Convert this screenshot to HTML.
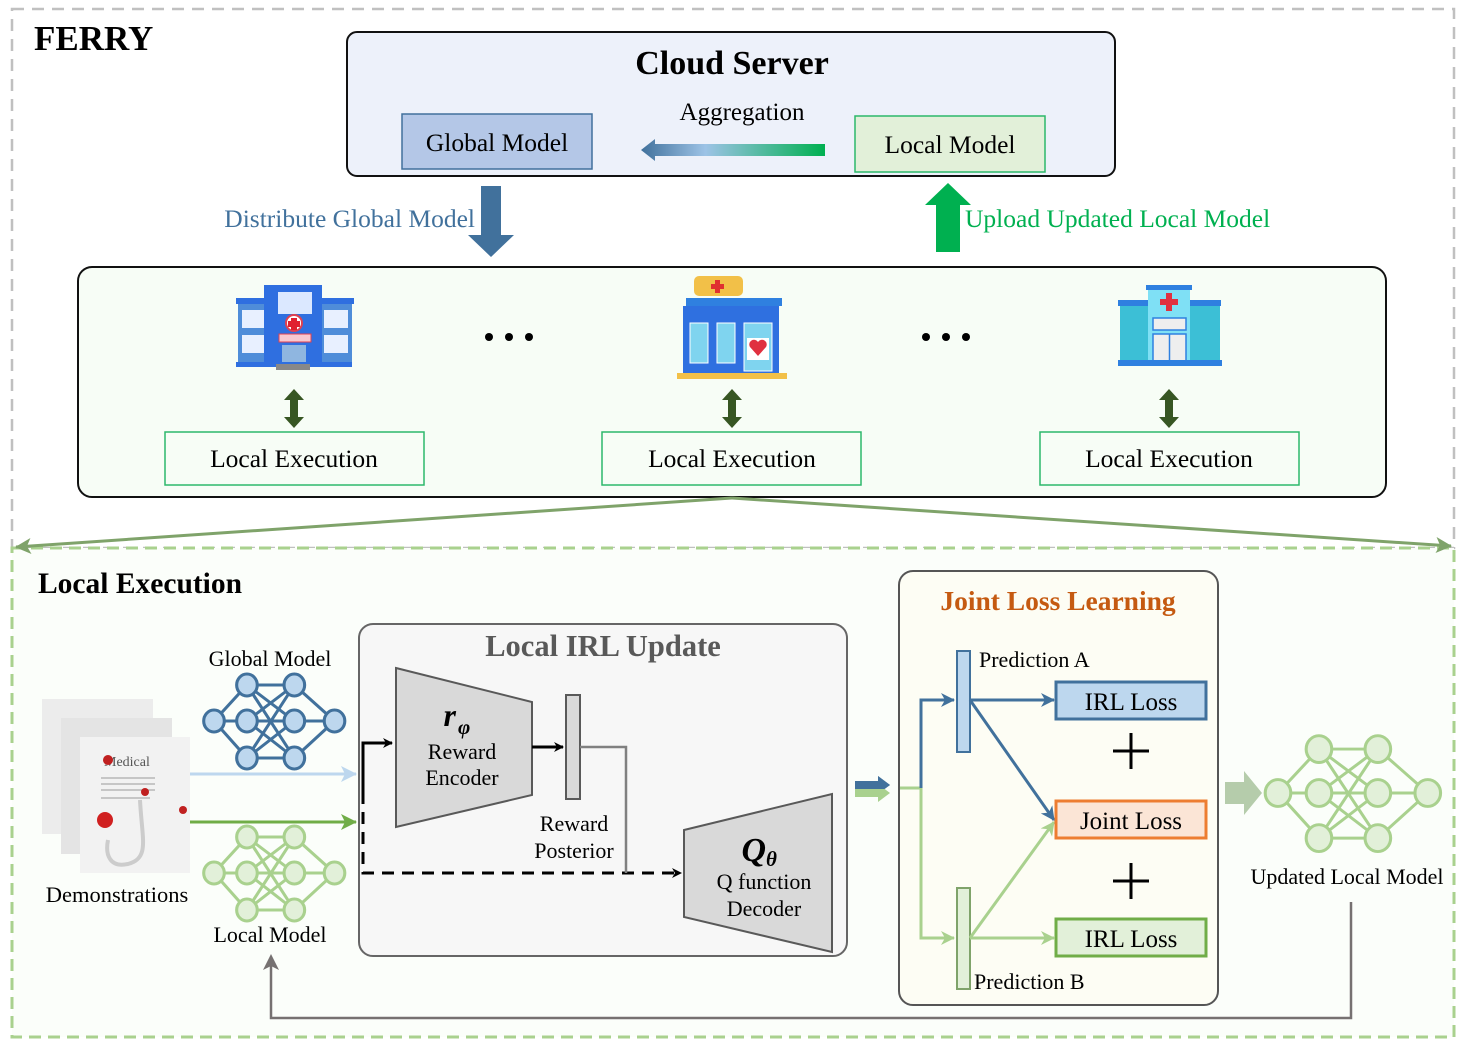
<!DOCTYPE html>
<html><head><meta charset="utf-8"><style>
html,body{margin:0;padding:0;background:#fff}
svg{display:block}
text{font-family:"Liberation Serif",serif}
</style></head><body>
<svg width="1468" height="1047" viewBox="0 0 1468 1047" xmlns="http://www.w3.org/2000/svg">
<defs>
<g id="net">
 <g fill="none">
  <line x1="0" y1="0" x2="32" y2="-36"/><line x1="0" y1="0" x2="32" y2="0"/><line x1="0" y1="0" x2="32" y2="37"/>
  <line x1="32" y1="-36" x2="78" y2="-36"/><line x1="32" y1="-36" x2="78" y2="0"/><line x1="32" y1="-36" x2="78" y2="37"/>
  <line x1="32" y1="0" x2="78" y2="-36"/><line x1="32" y1="0" x2="78" y2="0"/><line x1="32" y1="0" x2="78" y2="37"/>
  <line x1="32" y1="37" x2="78" y2="-36"/><line x1="32" y1="37" x2="78" y2="0"/><line x1="32" y1="37" x2="78" y2="37"/>
  <line x1="78" y1="-36" x2="117" y2="0"/><line x1="78" y1="0" x2="117" y2="0"/><line x1="78" y1="37" x2="117" y2="0"/>
 </g>
 <ellipse cx="0" cy="0" rx="10" ry="11"/>
 <ellipse cx="32" cy="-36" rx="10" ry="11"/><ellipse cx="32" cy="0" rx="10" ry="11"/><ellipse cx="32" cy="37" rx="10" ry="11"/>
 <ellipse cx="78" cy="-36" rx="10" ry="11"/><ellipse cx="78" cy="0" rx="10" ry="11"/><ellipse cx="78" cy="37" rx="10" ry="11"/>
 <ellipse cx="117" cy="0" rx="10" ry="11"/>
</g>
<linearGradient id="agg" x1="0" x2="1" y1="0" y2="0">
 <stop offset="0" stop-color="#41719c"/><stop offset="0.35" stop-color="#9dc3e6"/><stop offset="1" stop-color="#00b050"/>
</linearGradient>
<marker id="ab" markerWidth="10" markerHeight="10" refX="9" refY="5" orient="auto" markerUnits="userSpaceOnUse"><path d="M0,0 L10,5 L0,10 L3,5Z" fill="#000"/></marker>
<marker id="ablue" markerWidth="14" markerHeight="14" refX="13" refY="7" orient="auto" markerUnits="userSpaceOnUse"><path d="M0,0 L14,7 L0,14 L4,7Z" fill="#41719c"/></marker>
<marker id="agreen" markerWidth="14" markerHeight="14" refX="13" refY="7" orient="auto" markerUnits="userSpaceOnUse"><path d="M0,0 L14,7 L0,14 L4,7Z" fill="#a9d18e"/></marker>
<marker id="alb" markerWidth="16" markerHeight="16" refX="15" refY="8" orient="auto" markerUnits="userSpaceOnUse"><path d="M0,0 L16,8 L0,16 L4,8Z" fill="#bdd7ee"/></marker>
<marker id="adg" markerWidth="16" markerHeight="16" refX="15" refY="8" orient="auto" markerUnits="userSpaceOnUse"><path d="M0,0 L16,8 L0,16 L4,8Z" fill="#70ad47"/></marker>
<marker id="aol" markerWidth="16" markerHeight="16" refX="15" refY="8" orient="auto" markerUnits="userSpaceOnUse"><path d="M0,0 L16,8 L0,16 L4,8Z" fill="#7fa36a"/></marker>
<marker id="agr" markerWidth="16" markerHeight="16" refX="8" refY="8" orient="auto" markerUnits="userSpaceOnUse"><path d="M0,0 L16,8 L0,16 L4,8Z" fill="#767171"/></marker>
</defs>

<rect x="12" y="9" width="1442" height="539" fill="none" stroke="#c0c0c0" stroke-width="2.5" stroke-dasharray="12,8"/>
<rect x="12" y="548" width="1442" height="489" fill="#fbfefa" stroke="#a9d18e" stroke-width="3" stroke-dasharray="12,7"/>

<text x="34" y="50" font-size="35" font-weight="bold">FERRY</text>

<rect x="347" y="32" width="768" height="144" rx="10" fill="#edf1fa" stroke="#111" stroke-width="2"/>
<text x="732" y="74" font-size="34" font-weight="bold" text-anchor="middle">Cloud Server</text>
<text x="742" y="120" font-size="25" text-anchor="middle">Aggregation</text>
<rect x="402" y="114" width="190" height="55" fill="#b4c7e7" stroke="#41719c" stroke-width="1.5"/>
<text x="497" y="151" font-size="25.5" text-anchor="middle">Global Model</text>
<rect x="855" y="116" width="190" height="56" fill="#e2f0d9" stroke="#2db86b" stroke-width="1.5"/>
<text x="950" y="153" font-size="25.5" text-anchor="middle">Local Model</text>
<path d="M641,150 L655,139 L655,144 L825,144 L825,156 L655,156 L655,161 Z" fill="url(#agg)"/>

<path d="M481,186 L501,186 L501,235 L514,235 L491,257 L468,235 L481,235 Z" fill="#41719c"/>
<text x="475" y="227" font-size="25.5" fill="#41719c" text-anchor="end">Distribute Global Model</text>
<path d="M936,252 L960,252 L960,205 L971,205 L948,183 L925,205 L936,205 Z" fill="#00b050"/>
<text x="965" y="227" font-size="25.5" fill="#00b050">Upload Updated Local Model</text>

<rect x="78" y="267" width="1308" height="230" rx="14" fill="#f7fdf6" stroke="#111" stroke-width="2"/>

<g>
 <rect x="236" y="298" width="118" height="6" fill="#2f6fe0"/>
 <rect x="238" y="304" width="30" height="60" fill="#4f8dd9"/>
 <rect x="320" y="304" width="32" height="60" fill="#4f8dd9"/>
 <rect x="264" y="285" width="58" height="80" fill="#2f6fe0"/>
 <rect x="278" y="292" width="34" height="22" fill="#dbe8ff"/>
 <rect x="242" y="310" width="22" height="18" fill="#e8f0ff"/><rect x="242" y="335" width="22" height="18" fill="#e8f0ff"/>
 <rect x="324" y="310" width="24" height="18" fill="#e8f0ff"/><rect x="324" y="335" width="24" height="18" fill="#e8f0ff"/>
 <circle cx="294" cy="323" r="8" fill="#fff" stroke="#e04050" stroke-width="2"/>
 <path d="M291,318h6v3h3v6h-3v3h-6v-3h-3v-6h3z" fill="#e02030"/>
 <rect x="279" y="334" width="32" height="8" fill="#f8c8d0" stroke="#e04050"/>
 <rect x="282" y="345" width="24" height="18" fill="#8fb6e0"/>
 <rect x="236" y="362" width="116" height="5" fill="#2f6fe0"/>
 <rect x="276" y="364" width="34" height="6" fill="#888"/>
</g>
<g>
 <rect x="694" y="276" width="49" height="20" rx="5" fill="#f2c048"/>
 <path d="M715,280h5v4h4v5h-4v4h-5v-4h-4v-5h4z" fill="#e03030"/>
 <rect x="686" y="298" width="96" height="8" fill="#2f80e0"/>
 <rect x="683" y="306" width="96" height="68" fill="#2f70e0"/>
 <rect x="690" y="323" width="18" height="40" fill="#7fd4ef" stroke="#fff"/>
 <rect x="717" y="323" width="18" height="40" fill="#7fd4ef" stroke="#fff"/>
 <rect x="744" y="323" width="28" height="48" fill="#7fd4ef" stroke="#fff"/>
 <rect x="747" y="338" width="22" height="22" fill="#fff"/>
 <path d="M758,356 L750,347 A4,4 0 0 1 758,342 A4,4 0 0 1 766,347 Z" fill="#e03040"/>
 <rect x="677" y="373" width="110" height="6" fill="#f2c048"/>
</g>
<g>
 <rect x="1118" y="300" width="38" height="6" fill="#2f80e0"/>
 <rect x="1183" y="300" width="38" height="6" fill="#2f80e0"/>
 <rect x="1120" y="306" width="34" height="54" fill="#3cbfd6"/>
 <rect x="1186" y="306" width="34" height="54" fill="#3cbfd6"/>
 <rect x="1146" y="285" width="46" height="5" fill="#2f80e0"/>
 <rect x="1148" y="290" width="42" height="70" fill="#7fe0f5"/>
 <path d="M1166,293h6v6h6v6h-6v6h-6v-6h-6v-6h6z" fill="#e03040"/>
 <rect x="1153" y="318" width="33" height="12" fill="#eee" stroke="#2f80e0" stroke-width="1.5"/>
 <rect x="1153" y="334" width="33" height="27" fill="#eee" stroke="#2f80e0" stroke-width="1.5"/>
 <line x1="1169.5" y1="334" x2="1169.5" y2="361" stroke="#2f80e0" stroke-width="1.5"/>
 <rect x="1118" y="360" width="104" height="6" fill="#2f80e0"/>
</g>

<g fill="#000">
 <circle cx="489" cy="337" r="4"/><circle cx="509" cy="337" r="4"/><circle cx="529" cy="337" r="4"/>
 <circle cx="926" cy="337" r="4"/><circle cx="946" cy="337" r="4"/><circle cx="966" cy="337" r="4"/>
</g>

<g fill="#375623">
 <path d="M294,389 L304,400 L298,400 L298,417 L304,417 L294,428 L284,417 L290,417 L290,400 L284,400 Z"/>
 <path d="M732,389 L742,400 L736,400 L736,417 L742,417 L732,428 L722,417 L728,417 L728,400 L722,400 Z"/>
 <path d="M1169,389 L1179,400 L1173,400 L1173,417 L1179,417 L1169,428 L1159,417 L1165,417 L1165,400 L1159,400 Z"/>
</g>

<g fill="#f7fdf6" stroke="#2db86b" stroke-width="1.5">
 <rect x="165" y="432" width="259" height="53"/><rect x="602" y="432" width="259" height="53"/><rect x="1040" y="432" width="259" height="53"/>
</g>
<g font-size="25.5" text-anchor="middle">
 <text x="294" y="467">Local Execution</text><text x="732" y="467">Local Execution</text><text x="1169" y="467">Local Execution</text>
</g>

<line x1="732" y1="498" x2="16" y2="547" stroke="#7fa36a" stroke-width="3" marker-end="url(#aol)"/>
<line x1="732" y1="498" x2="1451" y2="546" stroke="#7fa36a" stroke-width="3" marker-end="url(#aol)"/>

<text x="38" y="593" font-size="29.5" font-weight="bold">Local Execution</text>

<g>
 <rect x="42" y="699" width="111" height="135" fill="#ececec"/>
 <rect x="61" y="718" width="111" height="136" fill="#e4e4e4"/>
 <rect x="80" y="737" width="110" height="136" fill="#f2f2f2"/>
 <text x="104" y="766" font-size="14" fill="#555">Medical</text>
 <circle cx="108" cy="760" r="5" fill="#c02020"/>
 <g stroke="#999" stroke-width="1"><line x1="101" y1="778" x2="155" y2="778"/><line x1="101" y1="784" x2="155" y2="784"/><line x1="101" y1="790" x2="155" y2="790"/><line x1="101" y1="798" x2="150" y2="798"/></g>
 <circle cx="105" cy="820" r="8" fill="#d02020"/>
 <circle cx="145" cy="792" r="4" fill="#c02020"/><circle cx="183" cy="810" r="4" fill="#c02020"/>
 <path d="M140,800 C142,840 150,858 128,864 C110,868 105,855 108,840" fill="none" stroke="#ccc" stroke-width="4"/>
</g>
<text x="117" y="902" font-size="22.5" text-anchor="middle">Demonstrations</text>

<text x="270" y="666" font-size="22" text-anchor="middle">Global Model</text>
<use href="#net" transform="translate(214,721) scale(1.03,1)" stroke="#41719c" stroke-width="3" fill="#bdd7ee"/>
<use href="#net" transform="translate(214,873) scale(1.03,1)" stroke="#a9d18e" stroke-width="3" fill="#e2f0d9"/>
<text x="270" y="942" font-size="22" text-anchor="middle">Local Model</text>

<line x1="190" y1="774" x2="356" y2="774" stroke="#bdd7ee" stroke-width="3" marker-end="url(#alb)"/>
<line x1="190" y1="822" x2="356" y2="822" stroke="#70ad47" stroke-width="3" marker-end="url(#adg)"/>

<rect x="359" y="624" width="488" height="332" rx="14" fill="#f7f7f7" stroke="#666" stroke-width="2"/>
<text x="603" y="656" font-size="30.5" font-weight="bold" fill="#595959" text-anchor="middle">Local IRL Update</text>
<polyline points="363,792 363,743 392,743" fill="none" stroke="#000" stroke-width="3" marker-end="url(#ab)"/>
<polyline points="363,792 363,873 681,873" fill="none" stroke="#000" stroke-width="3" stroke-dasharray="12,8" marker-end="url(#ab)"/>
<polygon points="396,668 532,702 532,795 396,827" fill="#d9d9d9" stroke="#595959" stroke-width="2"/>
<text x="456" y="726" font-size="32" font-weight="bold" font-style="italic" text-anchor="end">r</text>
<text x="458" y="734" font-size="21" font-weight="bold" font-style="italic">φ</text>
<text x="462" y="759" font-size="22" text-anchor="middle">Reward</text>
<text x="462" y="785" font-size="22" text-anchor="middle">Encoder</text>
<line x1="532" y1="747" x2="563" y2="747" stroke="#000" stroke-width="3" marker-end="url(#ab)"/>
<rect x="566" y="695" width="14" height="104" fill="#d9d9d9" stroke="#595959" stroke-width="2"/>
<polyline points="580,747 626,747 626,873" fill="none" stroke="#808080" stroke-width="2.5"/>
<text x="574" y="831" font-size="22" text-anchor="middle">Reward</text>
<text x="574" y="858" font-size="22" text-anchor="middle">Posterior</text>
<polygon points="684,830 832,794 832,952 684,917" fill="#d9d9d9" stroke="#595959" stroke-width="2"/>
<text x="766" y="861" font-size="34" font-weight="bold" font-style="italic" text-anchor="end">Q</text>
<text x="766" y="866" font-size="21" font-weight="bold" font-style="italic">θ</text>
<text x="764" y="889" font-size="22" text-anchor="middle">Q function</text>
<text x="764" y="916" font-size="22" text-anchor="middle">Decoder</text>

<path d="M855,781 L878,781 L878,776 L890,785 L878,794 L878,789 L855,789 Z" fill="#41719c"/>
<path d="M855,789 L878,789 L878,784 L890,793 L878,802 L878,797 L855,797 Z" fill="#a9d18e"/>
<path d="M855,781 L878,781 L878,776 L890,785 L884,789 L855,789 Z" fill="#41719c"/>

<rect x="899" y="571" width="319" height="434" rx="14" fill="#fdfdf4" stroke="#555" stroke-width="2"/>
<text x="1058" y="610" font-size="27.5" font-weight="bold" fill="#c55a11" text-anchor="middle">Joint Loss Learning</text>
<line x1="900" y1="788" x2="921" y2="788" stroke="#a9d18e" stroke-width="3"/>
<polyline points="921,788 921,700 954,700" fill="none" stroke="#41719c" stroke-width="3" marker-end="url(#ablue)"/>
<polyline points="921,788 921,938 954,938" fill="none" stroke="#a9d18e" stroke-width="3" marker-end="url(#agreen)"/>
<rect x="957" y="651" width="13" height="101" fill="#bdd7ee" stroke="#41719c" stroke-width="2"/>
<rect x="957" y="888" width="13" height="101" fill="#e2f0d9" stroke="#7fa36a" stroke-width="2"/>
<text x="979" y="667" font-size="22">Prediction A</text>
<text x="974" y="989" font-size="22">Prediction B</text>
<line x1="970" y1="700" x2="1054" y2="700" stroke="#41719c" stroke-width="3" marker-end="url(#ablue)"/>
<line x1="970" y1="700" x2="1054" y2="820" stroke="#41719c" stroke-width="3" marker-end="url(#ablue)"/>
<line x1="970" y1="938" x2="1054" y2="938" stroke="#a9d18e" stroke-width="3" marker-end="url(#agreen)"/>
<line x1="970" y1="938" x2="1054" y2="822" stroke="#a9d18e" stroke-width="3" marker-end="url(#agreen)"/>
<rect x="1056" y="682" width="150" height="37" fill="#bdd7ee" stroke="#41719c" stroke-width="3"/>
<text x="1131" y="710" font-size="25" text-anchor="middle">IRL Loss</text>
<rect x="1056" y="801" width="150" height="37" fill="#fbe5d6" stroke="#ed7d31" stroke-width="3"/>
<text x="1131" y="829" font-size="25" text-anchor="middle">Joint Loss</text>
<rect x="1056" y="919" width="150" height="37" fill="#e2f0d9" stroke="#70ad47" stroke-width="3"/>
<text x="1131" y="947" font-size="25" text-anchor="middle">IRL Loss</text>
<g stroke="#000" stroke-width="3">
 <line x1="1113" y1="751" x2="1149" y2="751"/><line x1="1131" y1="733" x2="1131" y2="769"/>
 <line x1="1113" y1="881" x2="1149" y2="881"/><line x1="1131" y1="863" x2="1131" y2="899"/>
</g>

<path d="M1225,782 L1244,782 L1244,771 L1262,793 L1244,815 L1244,804 L1225,804 Z" fill="#b5ccab"/>
<g transform="translate(1278,793) scale(1.28,1.22)" stroke="#a9d18e" stroke-width="2.4" fill="#e2f0d9">
 <use href="#net"/>
</g>
<text x="1347" y="884" font-size="22" text-anchor="middle">Updated Local Model</text>

<polyline points="1351,902 1351,1018 271,1018 271,962" fill="none" stroke="#767171" stroke-width="2.5" marker-end="url(#agr)"/>
</svg>
</body></html>
